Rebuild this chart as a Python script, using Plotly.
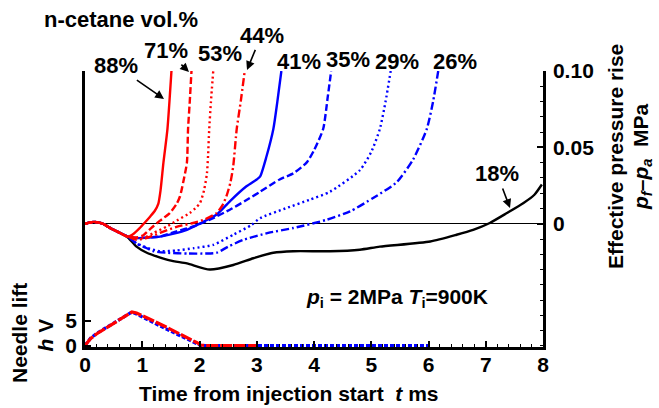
import plotly.graph_objects as go

# ---------------- data ----------------
# Effective pressure rise (MPa) vs time (ms), n-cetane vol.% series
t88 = [0, 0.15, 0.3, 0.45, 0.6, 0.75, 0.85, 0.95, 1.05, 1.14, 1.22, 1.28, 1.32, 1.37, 1.44, 1.51]
p88 = [0, 0.0012, 0.0002, -0.003, -0.0058, -0.0085, -0.0065, -0.003, 0.001, 0.0048, 0.0085, 0.013, 0.022, 0.040, 0.062, 0.10]

t71 = [0, 0.15, 0.3, 0.45, 0.6, 0.75, 0.9, 1.02, 1.15, 1.31, 1.48, 1.6, 1.66, 1.72, 1.78, 1.80, 1.83, 1.86]
p71 = [0, 0.0012, 0.0002, -0.003, -0.0058, -0.0085, -0.009, -0.0075, -0.003, 0.002, 0.007, 0.013, 0.018, 0.028, 0.040, 0.062, 0.080, 0.10]

t53 = [0, 0.15, 0.3, 0.45, 0.6, 0.75, 0.9, 1.02, 1.2, 1.43, 1.6, 1.83, 1.95, 2.01, 2.08, 2.13, 2.15, 2.17, 2.2, 2.24]
p53 = [0, 0.0012, 0.0002, -0.003, -0.0058, -0.0085, -0.009, -0.0094, -0.006, -0.0018, 0.002, 0.007, 0.011, 0.0136, 0.022, 0.033, 0.045, 0.062, 0.080, 0.10]

t44 = [0, 0.15, 0.3, 0.45, 0.6, 0.75, 0.9, 1.1, 1.31, 1.6, 1.89, 2.1, 2.30, 2.40, 2.47, 2.54, 2.59, 2.65, 2.72, 2.79]
p44 = [0, 0.0012, 0.0002, -0.003, -0.0058, -0.0085, -0.0105, -0.009, -0.006, -0.002, 0.0005, 0.003, 0.007, 0.012, 0.018, 0.027, 0.038, 0.062, 0.080, 0.10]

t41 = [0, 0.15, 0.3, 0.45, 0.6, 0.75, 0.9, 1.1, 1.31, 1.55, 1.78, 2.0, 2.30, 2.53, 2.82, 3.0, 3.06, 3.17, 3.29, 3.36, 3.43]
p41 = [0, 0.0012, 0.0002, -0.003, -0.0058, -0.0085, -0.0094, -0.009, -0.0084, -0.0065, -0.004, 0.0, 0.006, 0.0147, 0.0245, 0.029, 0.031, 0.044, 0.062, 0.080, 0.10]

t35 = [0, 0.15, 0.3, 0.45, 0.6, 0.75, 0.9, 1.1, 1.31, 1.6, 1.89, 2.2, 2.53, 2.8, 3.06, 3.4, 3.64, 3.87, 4.0, 4.16, 4.24, 4.30]
p35 = [0, 0.0012, 0.0002, -0.003, -0.0058, -0.0085, -0.0094, -0.009, -0.0084, -0.005, -0.0018, 0.003, 0.0092, 0.015, 0.021, 0.029, 0.033, 0.040, 0.048, 0.062, 0.083, 0.10]

t29 = [0, 0.15, 0.3, 0.45, 0.6, 0.75, 0.9, 1.1, 1.31, 1.6, 1.9, 2.24, 2.6, 2.9, 3.06, 3.5, 3.93, 4.28, 4.8, 5.0, 5.15, 5.25, 5.34]
p29 = [0, 0.0012, 0.0002, -0.003, -0.0058, -0.0085, -0.0127, -0.016, -0.018, -0.0175, -0.016, -0.0138, -0.007, -0.001, 0.0037, 0.010, 0.0158, 0.021, 0.035, 0.047, 0.062, 0.080, 0.10]

t26 = [0, 0.15, 0.3, 0.45, 0.6, 0.75, 0.9, 1.02, 1.2, 1.43, 1.8, 2.1, 2.30, 2.5, 2.77, 3.2, 3.64, 4.22, 4.63, 5.04, 5.44, 5.73, 5.97, 6.08, 6.17]
p26 = [0, 0.0012, 0.0002, -0.003, -0.0058, -0.0085, -0.013, -0.015, -0.018, -0.019, -0.0195, -0.0195, -0.019, -0.015, -0.0105, -0.006, -0.0028, 0.0026, 0.0081, 0.017, 0.027, 0.042, 0.062, 0.080, 0.10]

t18 = [0, 0.15, 0.3, 0.45, 0.6, 0.75, 0.9, 1.08, 1.48, 1.78, 2.18, 2.59, 2.94, 3.29, 3.64, 4.28, 4.8, 5.15, 6.03, 6.49, 6.78, 7.07, 7.37, 7.66, 7.85, 7.98]
p18 = [0, 0.0012, 0.0002, -0.003, -0.0058, -0.009, -0.015, -0.019, -0.024, -0.026, -0.030, -0.027, -0.0226, -0.019, -0.018, -0.018, -0.017, -0.015, -0.0116, -0.0072, -0.004, 0.0005, 0.007, 0.0136, 0.019, 0.0257]

# Needle lift (V)
tn_blue = [0, 0.1, 0.2, 0.3, 0.4, 0.5, 0.6, 0.7, 0.82, 0.9, 1.0, 1.2, 1.4, 1.6, 1.8, 1.95, 2.02, 2.1, 6.0]
hn_blue = [0, 1.5, 2.4, 3.1, 3.8, 4.5, 5.2, 5.9, 6.7, 6.3, 5.7, 4.5, 3.4, 2.3, 1.2, 0.3, 0, 0, 0]
tn_red = [0, 0.1, 0.2, 0.3, 0.4, 0.5, 0.6, 0.7, 0.82, 0.9, 1.0, 1.2, 1.4, 1.6, 1.8, 1.95, 2.02, 2.1, 3.0]
hn_red = [0, 1.4, 2.3, 3.0, 3.7, 4.4, 5.1, 5.8, 6.7, 6.5, 6.0, 4.9, 3.8, 2.7, 1.6, 0.6, 0.1, 0, 0]

x_ticks = [0, 1, 2, 3, 4, 5, 6, 7, 8]
p_ticks = [0, 0.05, 0.10]
p_ticktext = ["0", "0.05", "0.10"]
h_ticks = [0, 5]

# ---------------- figure ----------------
W, H = 659, 408
L, R, T, B = 85, 116, 71, 61
PW, PH = W - L - R, H - T - B
FONT = "Liberation Sans, Arial, sans-serif"


def px(x):
    return (x - L) / PW


def py(y):
    return (H - B - y) / PH


RED, BLUE, BLACK = "#ff0000", "#0000ff", "#000000"
LW = 2.4
DASH = "7px,3px"
DOT = "2px,3px"
DASHDOT = "8px,3px,2px,3px"

fig = go.Figure()

# needle lift (left axis)
fig.add_trace(go.Scatter(x=tn_blue, y=hn_blue, mode="lines", yaxis="y",
                         line=dict(color=BLUE, width=3.2, dash="4px,2px")))
fig.add_trace(go.Scatter(x=tn_red, y=hn_red, mode="lines", yaxis="y",
                         line=dict(color=RED, width=3.2, dash="12px,2px")))

# pressure rise (right axis)
series = [
    (t18, p18, BLACK, "solid"),
    (t26, p26, BLUE, DASHDOT),
    (t29, p29, BLUE, DOT),
    (t35, p35, BLUE, DASH),
    (t41, p41, BLUE, "solid"),
    (t44, p44, RED, DASHDOT),
    (t53, p53, RED, DOT),
    (t71, p71, RED, DASH),
    (t88, p88, RED, "solid"),
]
for tx, py_, col, dash in series:
    fig.add_trace(go.Scatter(x=tx, y=py_, mode="lines", yaxis="y2",
                             line=dict(color=col, width=LW, dash=dash, shape="spline", smoothing=0.6)))

tickfont = dict(family=FONT, size=21, color="black", weight="bold")

fig.update_layout(
    width=W, height=H, autosize=False,
    margin=dict(l=L, r=R, t=T, b=B, pad=0),
    paper_bgcolor="white", plot_bgcolor="white",
    showlegend=False,
    xaxis=dict(range=[0, 8], showline=True, linecolor="black", linewidth=2.5,
               ticks="inside", ticklen=6, tickwidth=2, tickcolor="black",
               tickvals=x_ticks, ticktext=[str(v) for v in x_ticks],
               minor=dict(tickmode="linear", tick0=0, dtick=0.2, ticks="inside", ticklen=3,
                          tickwidth=1.2, tickcolor="black"),
               showgrid=False, zeroline=False, tickfont=tickfont, ticklabelstandoff=-3),
    yaxis=dict(range=[-0.3, 54.9], side="left", showline=True, linecolor="black", linewidth=2.5,
               ticks="inside", ticklen=6, tickwidth=2, tickcolor="black",
               tickvals=h_ticks, ticktext=[str(v) for v in h_ticks],
               showgrid=False, zeroline=False, tickfont=tickfont, ticklabelstandoff=1),
    yaxis2=dict(range=[-0.0807, 0.1], overlaying="y", side="right", anchor="x",
                showline=True, linecolor="black", linewidth=2.5,
                ticks="inside", ticklen=6, tickwidth=2, tickcolor="black",
                tickvals=p_ticks, ticktext=p_ticktext,
                minor=dict(tickmode="linear", tick0=0, dtick=0.01, ticks="inside", ticklen=3,
                           tickwidth=1.2, tickcolor="black"),
                showgrid=False, zeroline=True, zerolinecolor="black", zerolinewidth=1.3,
                tickfont=tickfont, ticklabelstandoff=3),
)

anns = []


def label(text, x, y, size=22, angle=0, xanchor="center", yanchor="middle", head=None):
    a = dict(text=text, xref="paper", yref="paper",
             showarrow=False, textangle=angle, xanchor=xanchor, yanchor=yanchor,
             font=dict(family=FONT, size=size, color="black", weight="bold"))
    if head is None:
        a.update(x=px(x), y=py(y))
    else:
        # arrow from label box to the head point
        a.update(x=px(head[0]), y=py(head[1]), ax=x - head[0], ay=y - head[1],
                 showarrow=True, arrowhead=2, arrowsize=1.1, arrowwidth=1.6,
                 arrowcolor="black", standoff=0, startstandoff=1,
                 xanchor="center", yanchor="middle")
    anns.append(a)


label("n-cetane vol.%", 42, 19, size=22, xanchor="left")
label("88%", 116, 65.5, head=(164, 99))
label("71%", 166, 50, head=(189, 72))
label("53%", 220, 54)
label("44%", 261.5, 35, head=(247, 70))
label("41%", 298.5, 61.5)
label("35%", 347.5, 59)
label("29%", 396.5, 61.5)
label("26%", 455, 61.5)
label("18%", 497, 173.5, head=(510, 208))

label("<i>p</i><sub>i</sub> = 2MPa <i>T</i><sub>i</sub>=900K", 304, 298, size=21, xanchor="left")
label("Time from injection start&nbsp; <i>t</i> ms", 289, 393, size=21)
label("Effective pressure rise", 615, 157, size=21, angle=-90)
label("<i>p</i><sub><i>f</i></sub>–<i>p</i><sub><i>a</i></sub>&nbsp; MPa", 642, 157, size=21, angle=-90)
label("Needle lift", 19, 333, size=21, angle=-90)
label("<i>h</i> V", 45, 335.5, size=21, angle=-90)

fig.update_layout(annotations=anns)

fig.write_html("out.html")
